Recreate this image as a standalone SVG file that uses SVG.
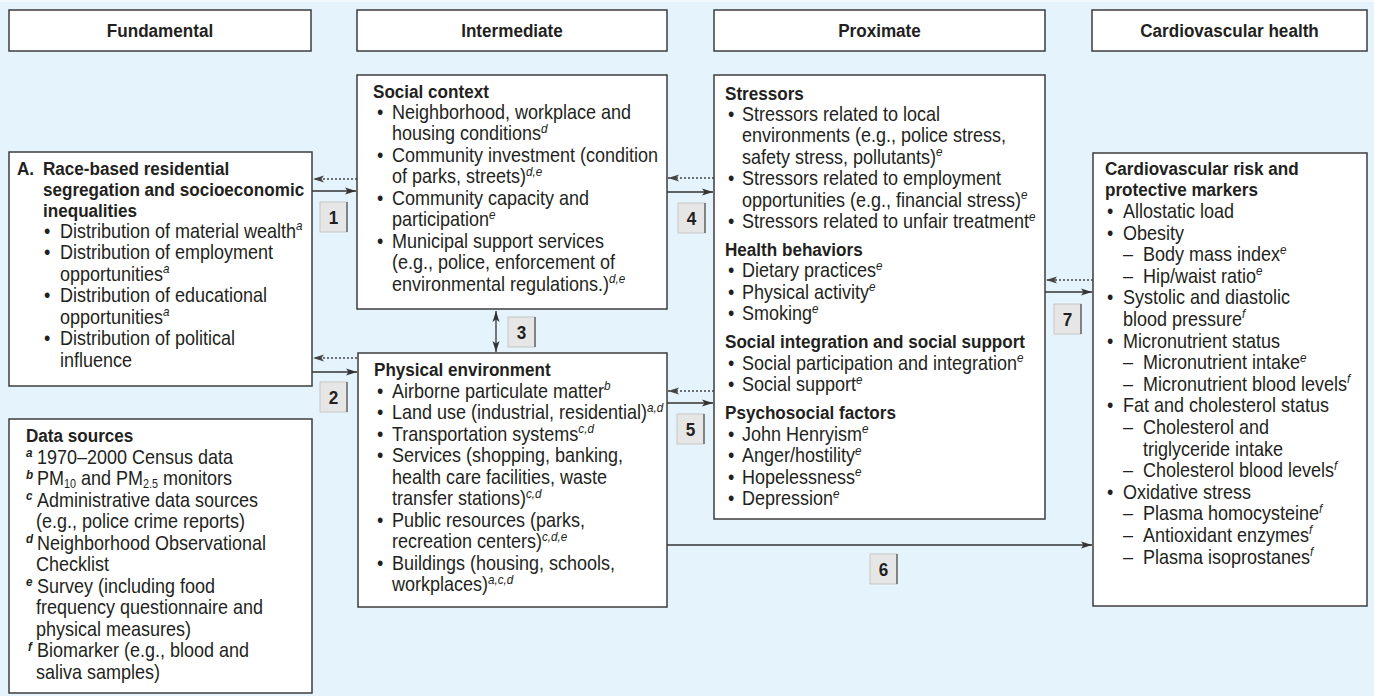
<svg xmlns="http://www.w3.org/2000/svg" width="1374" height="696" viewBox="0 0 1374 696">
<defs>
<style>
.bg{fill:#e5f4fc}
.box{fill:#fff;stroke:#3c3c3c;stroke-width:1.5}
.t{font-family:"Liberation Sans",Arial,sans-serif;font-size:20px;fill:#231f20}
.b{font-family:"Liberation Sans",Arial,sans-serif;font-size:19px;font-weight:bold;fill:#231f20}
.h{font-family:"Liberation Sans",Arial,sans-serif;font-size:19px;font-weight:bold;fill:#231f20;text-anchor:middle}
.sup{font-size:13px;font-style:italic}
.sub{font-size:12px}
.ds{font-family:"Liberation Sans",Arial,sans-serif;font-size:13px;font-style:italic;font-weight:bold;fill:#231f20}
.solid{stroke:#333;stroke-width:1.3;fill:none;marker-end:url(#ah)}
.dot{stroke:#444;stroke-width:1.3;stroke-dasharray:2 2;fill:none;marker-end:url(#ahd)}
.dbl{stroke:#333;stroke-width:1.3;fill:none;marker-end:url(#ah);marker-start:url(#ahs)}
.lbl rect{fill:#e6e6e6;stroke:#c6c6c6;stroke-width:1}
.lbl line{stroke:#666;stroke-width:1.5}
.lbl text{font-family:"Liberation Sans",Arial,sans-serif;font-size:19px;font-weight:bold;fill:#231f20;text-anchor:middle}
</style>
<marker id="ah" markerWidth="11" markerHeight="8" refX="11" refY="4" orient="auto" markerUnits="userSpaceOnUse"><path d="M0,0.5 L11,4 L0,7.5 L2.5,4 Z" fill="#333"/></marker>
<marker id="ahs" markerWidth="11" markerHeight="8" refX="11" refY="4" orient="auto-start-reverse" markerUnits="userSpaceOnUse"><path d="M0,0.5 L11,4 L0,7.5 L2.5,4 Z" fill="#333"/></marker>
<marker id="ahd" markerWidth="11" markerHeight="8" refX="11" refY="4" orient="auto" markerUnits="userSpaceOnUse"><path d="M0,0.5 L11,4 L0,7.5 L2.5,4 Z" fill="#444"/></marker>
</defs>

<rect x="0" y="0" width="1374" height="696" fill="#f3fafe"/>
<rect class="bg" x="0" y="2" width="1374" height="694"/>

<!-- Column headers -->
<g id="hdr-fundamental"><rect class="box" x="9" y="10" width="302" height="41"/><text class="h" x="160" y="37" transform="matrix(0.9 0 0 1 16 0)">Fundamental</text></g>
<g id="hdr-intermediate"><rect class="box" x="357" y="10" width="310" height="41"/><text class="h" x="512" y="37" transform="matrix(0.9 0 0 1 51.2 0)">Intermediate</text></g>
<g id="hdr-proximate"><rect class="box" x="714" y="10" width="331" height="41"/><text class="h" x="879.5" y="37" transform="matrix(0.9 0 0 1 87.95 0)">Proximate</text></g>
<g id="hdr-cvh"><rect class="box" x="1092" y="10" width="275" height="41"/><text class="h" x="1229.5" y="37" transform="matrix(0.9 0 0 1 122.95 0)">Cardiovascular health</text></g>

<!-- Connectors -->
<g id="connectors">
<line class="dot" x1="357" y1="179" x2="313" y2="179"/>
<line class="solid" x1="312" y1="191" x2="356" y2="191"/>
<line class="dot" x1="357" y1="358" x2="313" y2="358"/>
<line class="solid" x1="312" y1="372" x2="357" y2="372"/>
<line class="dbl" x1="496" y1="311" x2="496" y2="352"/>
<line class="dot" x1="714" y1="178" x2="668" y2="178"/>
<line class="solid" x1="667" y1="192" x2="713" y2="192"/>
<line class="dot" x1="714" y1="391" x2="668" y2="391"/>
<line class="solid" x1="667" y1="403" x2="713" y2="403"/>
<line class="solid" x1="667" y1="545" x2="1092" y2="545"/>
<line class="dot" x1="1093" y1="280" x2="1046" y2="280"/>
<line class="solid" x1="1045" y1="292" x2="1092" y2="292"/>
<g class="lbl" id="lbl1"><rect x="320" y="202" width="27" height="30"/><line x1="347" y1="202" x2="347" y2="232"/><text x="333.5" y="224" transform="matrix(0.9 0 0 1 33.35 0)">1</text></g>
<g class="lbl" id="lbl2"><rect x="320" y="382" width="27" height="30"/><line x1="347" y1="382" x2="347" y2="412"/><text x="333.5" y="404" transform="matrix(0.9 0 0 1 33.35 0)">2</text></g>
<g class="lbl" id="lbl3"><rect x="508" y="317" width="27" height="30"/><line x1="535" y1="317" x2="535" y2="347"/><text x="521.5" y="339" transform="matrix(0.9 0 0 1 52.15 0)">3</text></g>
<g class="lbl" id="lbl4"><rect x="678" y="203" width="27" height="30"/><line x1="705" y1="203" x2="705" y2="233"/><text x="691.5" y="225" transform="matrix(0.9 0 0 1 69.15 0)">4</text></g>
<g class="lbl" id="lbl5"><rect x="677" y="414" width="27" height="30"/><line x1="704" y1="414" x2="704" y2="444"/><text x="690.5" y="436" transform="matrix(0.9 0 0 1 69.05 0)">5</text></g>
<g class="lbl" id="lbl6"><rect x="870" y="554" width="27" height="30"/><line x1="897" y1="554" x2="897" y2="584"/><text x="883.5" y="576" transform="matrix(0.9 0 0 1 88.35 0)">6</text></g>
<g class="lbl" id="lbl7"><rect x="1054" y="304" width="27" height="30"/><line x1="1081" y1="304" x2="1081" y2="334"/><text x="1067.5" y="326" transform="matrix(0.9 0 0 1 106.75 0)">7</text></g>
</g>

<!-- Fundamental: segregation -->
<g id="segregation">
<rect class="box" x="9" y="152" width="303" height="234"/>
<g transform="matrix(0.9 0 0 1 1.7 0)">
<text class="b" x="17" y="175">A.</text>
<text class="b" x="45.9" y="175">Race-based residential</text>
<text class="b" x="45.9" y="196">segregation and socioeconomic</text>
<text class="b" x="45.9" y="217">inequalities</text>
<text class="t" x="47" y="238">•</text><text class="t" x="64.8" y="238">Distribution of material wealth<tspan class="sup" dy="-7.5">a</tspan></text>
<text class="t" x="47" y="259.5">•</text><text class="t" x="64.8" y="259.5">Distribution of employment</text>
<text class="t" x="64.8" y="281">opportunities<tspan class="sup" dy="-7.5">a</tspan></text>
<text class="t" x="47" y="302.5">•</text><text class="t" x="64.8" y="302.5">Distribution of educational</text>
<text class="t" x="64.8" y="324">opportunities<tspan class="sup" dy="-7.5">a</tspan></text>
<text class="t" x="47" y="345.5">•</text><text class="t" x="64.8" y="345.5">Distribution of political</text>
<text class="t" x="64.8" y="367">influence</text>
</g>
</g>

<!-- Data sources -->
<g id="data-sources">
<rect class="box" x="9" y="419" width="303" height="274"/>
<g transform="matrix(0.9 0 0 1 2.6 0)">
<text class="b" x="26" y="442">Data sources</text>
<text class="ds" x="26" y="457.5">a</text><text class="t" x="38.2" y="464">1970–2000 Census data</text>
<text class="ds" x="26" y="479">b</text><text class="t" x="38.2" y="485.5">PM<tspan class="sub" dy="3">10</tspan><tspan dy="-3"> and PM</tspan><tspan class="sub" dy="3">2.5</tspan><tspan dy="-3"> monitors</tspan></text>
<text class="ds" x="26" y="500.5">c</text><text class="t" x="38.2" y="507">Administrative data sources</text>
<text class="t" x="37.1" y="528.5">(e.g., police crime reports)</text>
<text class="ds" x="26" y="543.5">d</text><text class="t" x="38.2" y="550">Neighborhood Observational</text>
<text class="t" x="37.1" y="571.5">Checklist</text>
<text class="ds" x="26" y="586.5">e</text><text class="t" x="38.2" y="593">Survey (including food</text>
<text class="t" x="37.1" y="614.5">frequency questionnaire and</text>
<text class="t" x="37.1" y="636">physical measures)</text>
<text class="ds" x="28.2" y="651">f</text><text class="t" x="38.2" y="657.5">Biomarker (e.g., blood and</text>
<text class="t" x="37.1" y="679">saliva samples)</text>
</g>
</g>

<!-- Intermediate: social context -->
<g id="social-context">
<rect class="box" x="357" y="75" width="310" height="234"/>
<g transform="matrix(0.9 0 0 1 37.3 0)">
<text class="b" x="373" y="98">Social context</text>
<text class="t" x="377.4" y="119">•</text><text class="t" x="394.1" y="119">Neighborhood, workplace and</text>
<text class="t" x="394.1" y="140.5">housing conditions<tspan class="sup" dy="-7.5">d</tspan></text>
<text class="t" x="377.4" y="162">•</text><text class="t" x="394.1" y="162">Community investment (condition</text>
<text class="t" x="394.1" y="183.5">of parks, streets)<tspan class="sup" dy="-7.5">d,e</tspan></text>
<text class="t" x="377.4" y="205">•</text><text class="t" x="394.1" y="205">Community capacity and</text>
<text class="t" x="394.1" y="226.5">participation<tspan class="sup" dy="-7.5">e</tspan></text>
<text class="t" x="377.4" y="248">•</text><text class="t" x="394.1" y="248">Municipal support services</text>
<text class="t" x="394.1" y="269.5">(e.g., police, enforcement of</text>
<text class="t" x="394.1" y="291">environmental regulations.)<tspan class="sup" dy="-7.5">d,e</tspan></text>
</g>
</g>

<!-- Intermediate: physical environment -->
<g id="physical-environment">
<rect class="box" x="358" y="353" width="309" height="254"/>
<g transform="matrix(0.9 0 0 1 37.4 0)">
<text class="b" x="374" y="376">Physical environment</text>
<text class="t" x="377.3" y="398">•</text><text class="t" x="394" y="398">Airborne particulate matter<tspan class="sup" dy="-7.5">b</tspan></text>
<text class="t" x="377.3" y="419.5">•</text><text class="t" x="394" y="419.5">Land use (industrial, residential)<tspan class="sup" dy="-7.5">a,d</tspan></text>
<text class="t" x="377.3" y="441">•</text><text class="t" x="394" y="441">Transportation systems<tspan class="sup" dy="-7.5">c,d</tspan></text>
<text class="t" x="377.3" y="462.5">•</text><text class="t" x="394" y="462.5">Services (shopping, banking,</text>
<text class="t" x="394" y="484">health care facilities, waste</text>
<text class="t" x="394" y="505.5">transfer stations)<tspan class="sup" dy="-7.5">c,d</tspan></text>
<text class="t" x="377.3" y="527">•</text><text class="t" x="394" y="527">Public resources (parks,</text>
<text class="t" x="394" y="548.5">recreation centers)<tspan class="sup" dy="-7.5">c,d,e</tspan></text>
<text class="t" x="377.3" y="570">•</text><text class="t" x="394" y="570">Buildings (housing, schools,</text>
<text class="t" x="394" y="591.5">workplaces)<tspan class="sup" dy="-7.5">a,c,d</tspan></text>
</g>
</g>

<!-- Proximate -->
<g id="proximate-factors">
<rect class="box" x="714" y="75" width="331" height="444"/>
<g transform="matrix(0.9 0 0 1 72.5 0)">
<text class="b" x="725" y="100">Stressors</text>
<text class="t" x="728.3" y="121">•</text><text class="t" x="743.9" y="121">Stressors related to local</text>
<text class="t" x="743.9" y="142.5">environments (e.g., police stress,</text>
<text class="t" x="743.9" y="164">safety stress, pollutants)<tspan class="sup" dy="-7.5">e</tspan></text>
<text class="t" x="728.3" y="185.5">•</text><text class="t" x="743.9" y="185.5">Stressors related to employment</text>
<text class="t" x="743.9" y="207">opportunities (e.g., financial stress)<tspan class="sup" dy="-7.5">e</tspan></text>
<text class="t" x="728.3" y="228.5">•</text><text class="t" x="743.9" y="228.5">Stressors related to unfair treatment<tspan class="sup" dy="-7.5">e</tspan></text>
<text class="b" x="725" y="256">Health behaviors</text>
<text class="t" x="728.3" y="277.5">•</text><text class="t" x="743.9" y="277.5">Dietary practices<tspan class="sup" dy="-7.5">e</tspan></text>
<text class="t" x="728.3" y="299">•</text><text class="t" x="743.9" y="299">Physical activity<tspan class="sup" dy="-7.5">e</tspan></text>
<text class="t" x="728.3" y="320.5">•</text><text class="t" x="743.9" y="320.5">Smoking<tspan class="sup" dy="-7.5">e</tspan></text>
<text class="b" x="725" y="348.5">Social integration and social support</text>
<text class="t" x="728.3" y="370">•</text><text class="t" x="743.9" y="370">Social participation and integration<tspan class="sup" dy="-7.5">e</tspan></text>
<text class="t" x="728.3" y="391.5">•</text><text class="t" x="743.9" y="391.5">Social support<tspan class="sup" dy="-7.5">e</tspan></text>
<text class="b" x="725" y="419.5">Psychosocial factors</text>
<text class="t" x="728.3" y="441">•</text><text class="t" x="743.9" y="441">John Henryism<tspan class="sup" dy="-7.5">e</tspan></text>
<text class="t" x="728.3" y="462.5">•</text><text class="t" x="743.9" y="462.5">Anger/hostility<tspan class="sup" dy="-7.5">e</tspan></text>
<text class="t" x="728.3" y="484">•</text><text class="t" x="743.9" y="484">Hopelessness<tspan class="sup" dy="-7.5">e</tspan></text>
<text class="t" x="728.3" y="505.5">•</text><text class="t" x="743.9" y="505.5">Depression<tspan class="sup" dy="-7.5">e</tspan></text>
</g>
</g>

<!-- Cardiovascular markers -->
<g id="cv-markers">
<rect class="box" x="1093" y="153" width="274" height="453"/>
<g transform="matrix(0.9 0 0 1 110.5 0)">
<text class="b" x="1105" y="175">Cardiovascular risk and</text>
<text class="b" x="1105" y="196">protective markers</text>
<text class="t" x="1107.2" y="218">•</text><text class="t" x="1125" y="218">Allostatic load</text>
<text class="t" x="1107.2" y="239.6">•</text><text class="t" x="1125" y="239.6">Obesity</text>
<text class="t" x="1125" y="261.2">–</text><text class="t" x="1147.2" y="261.2">Body mass index<tspan class="sup" dy="-7.5">e</tspan></text>
<text class="t" x="1125" y="282.8">–</text><text class="t" x="1147.2" y="282.8">Hip/waist ratio<tspan class="sup" dy="-7.5">e</tspan></text>
<text class="t" x="1107.2" y="304.4">•</text><text class="t" x="1125" y="304.4">Systolic and diastolic</text>
<text class="t" x="1125" y="326">blood pressure<tspan class="sup" dy="-7.5">f</tspan></text>
<text class="t" x="1107.2" y="347.6">•</text><text class="t" x="1125" y="347.6">Micronutrient status</text>
<text class="t" x="1125" y="369.2">–</text><text class="t" x="1147.2" y="369.2">Micronutrient intake<tspan class="sup" dy="-7.5">e</tspan></text>
<text class="t" x="1125" y="390.8">–</text><text class="t" x="1147.2" y="390.8">Micronutrient blood levels<tspan class="sup" dy="-7.5">f</tspan></text>
<text class="t" x="1107.2" y="412.4">•</text><text class="t" x="1125" y="412.4">Fat and cholesterol status</text>
<text class="t" x="1125" y="434">–</text><text class="t" x="1147.2" y="434">Cholesterol and</text>
<text class="t" x="1147.2" y="455.6">triglyceride intake</text>
<text class="t" x="1125" y="477.2">–</text><text class="t" x="1147.2" y="477.2">Cholesterol blood levels<tspan class="sup" dy="-7.5">f</tspan></text>
<text class="t" x="1107.2" y="498.8">•</text><text class="t" x="1125" y="498.8">Oxidative stress</text>
<text class="t" x="1125" y="520.4">–</text><text class="t" x="1147.2" y="520.4">Plasma homocysteine<tspan class="sup" dy="-7.5">f</tspan></text>
<text class="t" x="1125" y="542">–</text><text class="t" x="1147.2" y="542">Antioxidant enzymes<tspan class="sup" dy="-7.5">f</tspan></text>
<text class="t" x="1125" y="563.6">–</text><text class="t" x="1147.2" y="563.6">Plasma isoprostanes<tspan class="sup" dy="-7.5">f</tspan></text>
</g>
</g>
</svg>
